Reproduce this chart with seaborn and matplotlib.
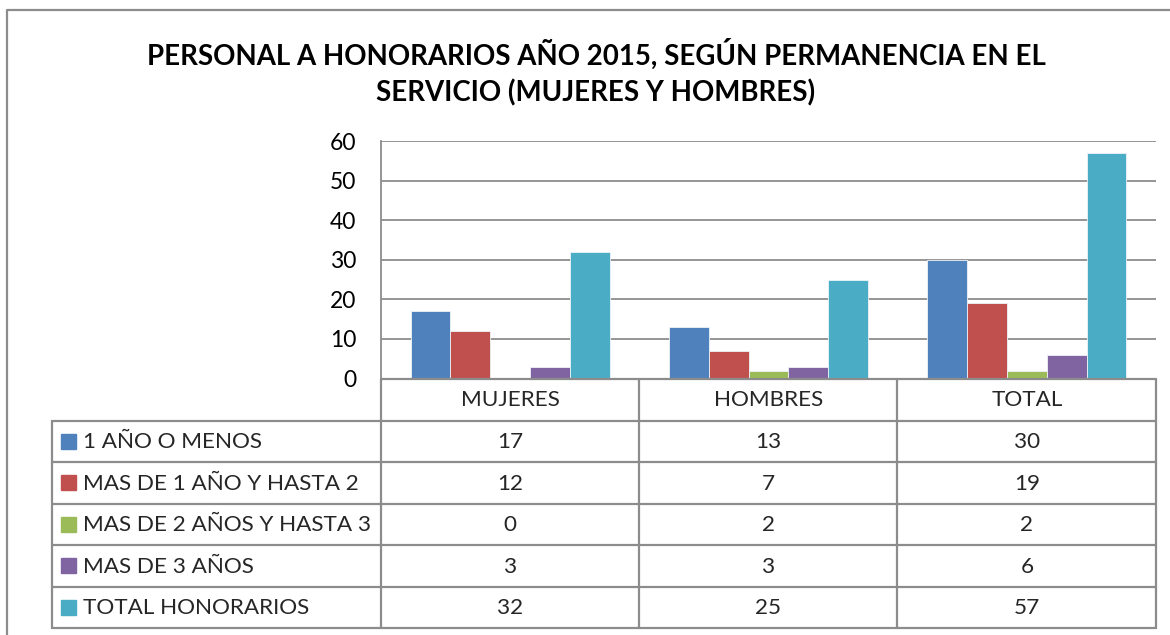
import matplotlib
matplotlib.use("Agg")
import matplotlib.pyplot as plt
import seaborn as sns
import pandas as pd
from matplotlib.lines import Line2D
from matplotlib.patches import Rectangle

# ---- data ----
categorias = ["MUJERES", "HOMBRES", "TOTAL"]
series = ["1 AÑO O MENOS", "MAS DE 1 AÑO Y HASTA 2", "MAS DE 2 AÑOS Y HASTA 3",
          "MAS DE 3 AÑOS", "TOTAL HONORARIOS"]
v_1_ano = [17, 13, 30]
v_1_2 = [12, 7, 19]
v_2_3 = [0, 2, 2]
v_3_mas = [3, 3, 6]
v_total = [32, 25, 57]
valores = [v_1_ano, v_1_2, v_2_3, v_3_mas, v_total]
colores = ["#4F81BD", "#C0504D", "#9BBB59", "#8064A2", "#4BACC6"]
yticks = [0, 10, 20, 30, 40, 50, 60]
titulo = "PERSONAL A HONORARIOS AÑO 2015, SEGÚN PERMANENCIA EN EL\nSERVICIO (MUJERES Y HOMBRES)"

rows = []
for s, vals in zip(series, valores):
    for c, v in zip(categorias, vals):
        rows.append({"categoria": c, "serie": s, "valor": v})
df = pd.DataFrame(rows)

sns.set_theme(style="white")
plt.rcParams["font.family"] = ["Lato", "DejaVu Sans"]

W, H = 1170, 635
fig = plt.figure(figsize=(W / 100, H / 100), dpi=100)
fig.patch.set_facecolor("white")

def fx(x):
    return x / W

def fy(y):
    return 1 - y / H

x0, x1 = 381, 1156
y_top, y_bot = 141, 378.5
ax = fig.add_axes([fx(x0), fy(y_bot), fx(x1) - fx(x0), fy(y_top) - fy(y_bot)])

sns.barplot(data=df, x="categoria", y="valor", hue="serie", order=categorias,
            hue_order=series, palette=colores, width=0.77, ax=ax,
            edgecolor="#eef3f8", linewidth=0.6, legend=False, saturation=1)

ax.set_ylim(0, 60)
ax.set_xlim(-0.5, 2.5)
ax.set_yticks(yticks)
ax.set_yticklabels([str(t) for t in yticks], fontsize=16.5, color="black")
ax.tick_params(axis="y", length=0, pad=18)
ax.set_xticks([])
ax.set_xlabel("")
ax.set_ylabel("")
grid_c = "#8c8c8c"
for t in yticks[1:]:
    ax.axhline(t, color=grid_c, lw=1.3, zorder=0)
for sp in ["top", "right", "bottom"]:
    ax.spines[sp].set_visible(False)
ax.spines["left"].set_color(grid_c)
ax.spines["left"].set_linewidth(1.3)

# overlay axes in pixel coordinates for frame and data table
ov = fig.add_axes([0, 0, 1, 1], zorder=5)
ov.set_xlim(0, W)
ov.set_ylim(H, 0)
ov.axis("off")
ov.patch.set_alpha(0)

ov.add_line(Line2D([7, 7, W + 5], [H + 5, 10, 10], color="#8c8c8c", lw=1.6))

ov.text(596, 73, titulo, ha="center", va="center", fontsize=19.9,
        fontweight="bold", linespacing=1.42, color="black")

tl = 52
row_y = [378.5, 420.5, 462, 503.5, 545, 586.5, 628]
col_x = [x0, 639, 897, x1]
lc = "#8c8c8c"
lw = 1.6
ov.add_line(Line2D([x0, x1], [row_y[0], row_y[0]], color=lc, lw=lw))
for y in row_y[1:]:
    ov.add_line(Line2D([tl, x1], [y, y], color=lc, lw=lw))
ov.add_line(Line2D([tl, tl], [row_y[1], row_y[-1]], color=lc, lw=lw))
for x in col_x:
    ov.add_line(Line2D([x, x], [row_y[0], row_y[-1]], color=lc, lw=lw))

centers = []
for i in range(len(categorias)):
    px = ax.transData.transform((i, 0))[0]
    centers.append(px)
fig_w_px = fig.get_figwidth() * fig.dpi
centers = [c * W / fig_w_px for c in centers]

fs = 16.2
for c, cx in zip(categorias, centers):
    ov.text(cx, (row_y[0] + row_y[1]) / 2 + 1, c, ha="center", va="center", fontsize=fs)
for r, (s, vals, col) in enumerate(zip(series, valores, colores)):
    ymid = (row_y[r + 1] + row_y[r + 2]) / 2
    ov.add_patch(Rectangle((61, ymid - 7.5), 15, 15, color=col))
    ov.text(83, ymid + 1, s, ha="left", va="center", fontsize=fs)
    for v, cx in zip(vals, centers):
        ov.text(cx, ymid + 1, str(v), ha="center", va="center", fontsize=fs)

fig.savefig("out.png", dpi=100, facecolor="white")
